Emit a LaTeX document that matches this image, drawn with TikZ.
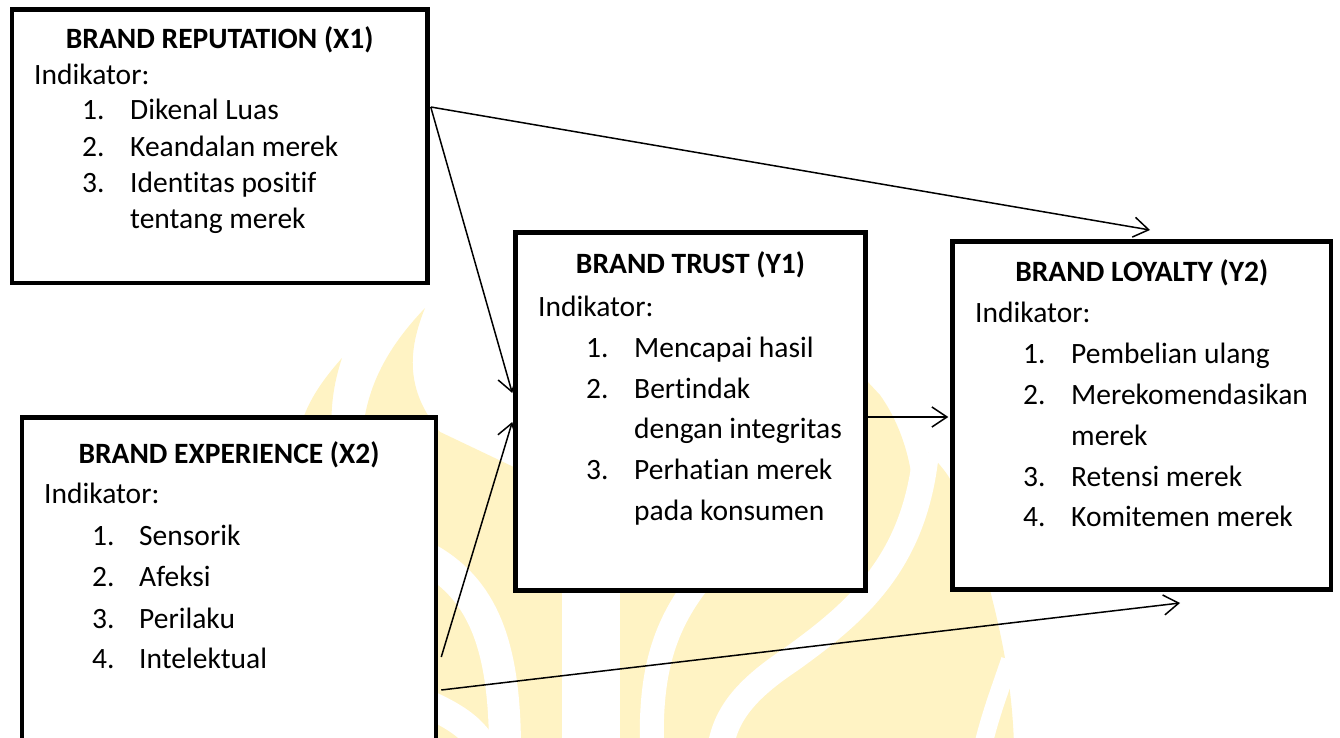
\documentclass[tikz,border=0pt]{standalone}
\usepackage{fontspec}
\setmainfont{Carlito}[Ligatures={NoCommon,NoContextual}]
\usetikzlibrary{arrows.meta}
\definecolor{wm}{RGB}{255,243,196}
\begin{document}
\begin{tikzpicture}[x=1pt,y=-1pt,
  box/.style={draw, line width=4.5pt, fill=white, inner sep=0pt},
  ttl/.style={font=\fontsize{29.5}{35}\selectfont\bfseries, anchor=base, inner sep=0pt},
  txt/.style={font=\fontsize{29.5}{35}\selectfont, anchor=base west, inner sep=0pt},
  conn/.style={line width=1.5pt, -{Straight Barb[length=15pt,width=20pt]}},
  band/.style={draw=white, line cap=butt},
]
\useasboundingbox (0,0) rectangle (1340,738);
\begin{scope}
\clip (0,0) rectangle (1340,738);
% watermark (approximate)
\fill[wm] (342,358) .. controls (318,385) and (302,410) .. (298,440) -- (332,440) .. controls (330,410) and (333,385) .. (342,358) -- cycle;
\fill[wm] (425,308) .. controls (408,350) and (405,390) .. (440,432) -- (436,560) -- (362,560) -- (362,440) .. controls (365,390) and (385,350) .. (425,308) -- cycle;
\fill[wm] (436,430) -- (520,470) -- (866,380) -- (880,395) .. controls (905,430) and (918,480) .. (912,525)
   -- (928,452) .. controls (940,465) and (950,475) .. (955,490) -- (990,590) .. controls (1000,630) and (1012,680) .. (1014,745)
   -- (436,745) -- cycle;
\draw[band, line width=26pt] (926,452) .. controls (915,560) and (860,610) .. (790,660) .. controls (745,690) and (725,715) .. (720,750);
\draw[band, line width=58pt] (591,580) -- (591,750);
\draw[band, line width=24pt] (700,580) .. controls (660,630) and (650,680) .. (652,750);
\draw[band, line width=32pt] (430,560) .. controls (485,592) and (505,650) .. (505,750);
\draw[band, line width=28pt] (430,705) .. controls (458,718) and (475,730) .. (485,750);
\draw[band, line width=18pt] (1010,660) .. controls (1000,690) and (990,715) .. (982,750);
% boxes
\node[box, minimum width=415.5pt, minimum height=273.5pt] (X1) at (219.75,146.25) {};
\node[box, minimum width=414pt, minimum height=360pt] (X2) at (229,597.5) {};
\node[box, minimum width=350pt, minimum height=358pt] (Y1) at (690.5,411.5) {};
\node[box, minimum width=378.5pt, minimum height=348pt] (Y2) at (1141.75,415.5) {};
\end{scope}
% X1 text
\node[ttl] (x1t) at (219.75,49) {BRAND REPUTATION (X1)};
\node[txt] (x1i) at (34,85) {Indikator:};
\node[txt] (x1n1) at (82,120) {1.};
\node[txt] (x1a) at (130,120) {Dikenal Luas};
\node[txt] (x1n2) at (82,157) {2.};
\node[txt] (x1b) at (130,157) {Keandalan merek};
\node[txt] (x1n3) at (82,193) {3.};
\node[txt] (x1c) at (130,193) {Identitas positif};
\node[txt] (x1d) at (130,228) {tentang merek};
% X2 text
\node[ttl] (x2t) at (229,463) {BRAND EXPERIENCE (X2)};
\node[txt] (x2i) at (44,503) {Indikator:};
\node[txt] (x2n1) at (92,545) {1.};
\node[txt] (x2a) at (139,545) {Sensorik};
\node[txt] (x2n2) at (92,586) {2.};
\node[txt] (x2b) at (139,586) {Afeksi};
\node[txt] (x2n3) at (92,628) {3.};
\node[txt] (x2c) at (139,628) {Perilaku};
\node[txt] (x2n4) at (92,668) {4.};
\node[txt] (x2d) at (139,668) {Intelektual};
% Y1 text
\node[ttl] (y1t) at (690.5,273) {BRAND TRUST (Y1)};
\node[txt] (y1i) at (538,316) {Indikator:};
\node[txt] (y1n1) at (586,357) {1.};
\node[txt] (y1a) at (634,357) {Mencapai hasil};
\node[txt] (y1n2) at (586,398) {2.};
\node[txt] (y1b) at (634,398) {Bertindak};
\node[txt] (y1c) at (634,438) {dengan integritas};
\node[txt] (y1n3) at (586,479) {3.};
\node[txt] (y1d) at (634,479) {Perhatian merek};
\node[txt] (y1e) at (634,520) {pada konsumen};
% Y2 text
\node[ttl] (y2t) at (1141.75,281) {BRAND LOYALTY (Y2)};
\node[txt] (y2i) at (975,322) {Indikator:};
\node[txt] (y2n1) at (1023,363) {1.};
\node[txt] (y2a) at (1071,363) {Pembelian ulang};
\node[txt] (y2n2) at (1023,404) {2.};
\node[txt] (y2b) at (1071,404) {Merekomendasikan};
\node[txt] (y2c) at (1071,445) {merek};
\node[txt] (y2n3) at (1023,486) {3.};
\node[txt] (y2d) at (1071,486) {Retensi merek};
\node[txt] (y2n4) at (1023,526) {4.};
\node[txt] (y2e) at (1071,526) {Komitemen merek};
% connectors
\coordinate (h107) at (0,107);
\coordinate (h393) at (0,393);
\coordinate (h422) at (0,422);
\coordinate (h417) at (0,417);
\coordinate (h657) at (0,657);
\coordinate (h690) at (0,690);
\coordinate (e1) at (1150,230);
\coordinate (e2) at (1180,603);
\draw[conn] ([xshift=1pt]X1.east |- h107) -- (e1);
\draw[conn] ([xshift=1pt]X1.east |- h107) -- ([xshift=-1pt]Y1.west |- h393);
\draw[conn] ([xshift=3pt]X2.east |- h657) -- ([xshift=-1pt]Y1.west |- h422);
\draw[conn] ([xshift=3pt]X2.east |- h690) -- (e2);
\draw[conn] (Y1.east |- h417) -- ([xshift=-2pt]Y2.west |- h417);
\end{tikzpicture}
\end{document}
